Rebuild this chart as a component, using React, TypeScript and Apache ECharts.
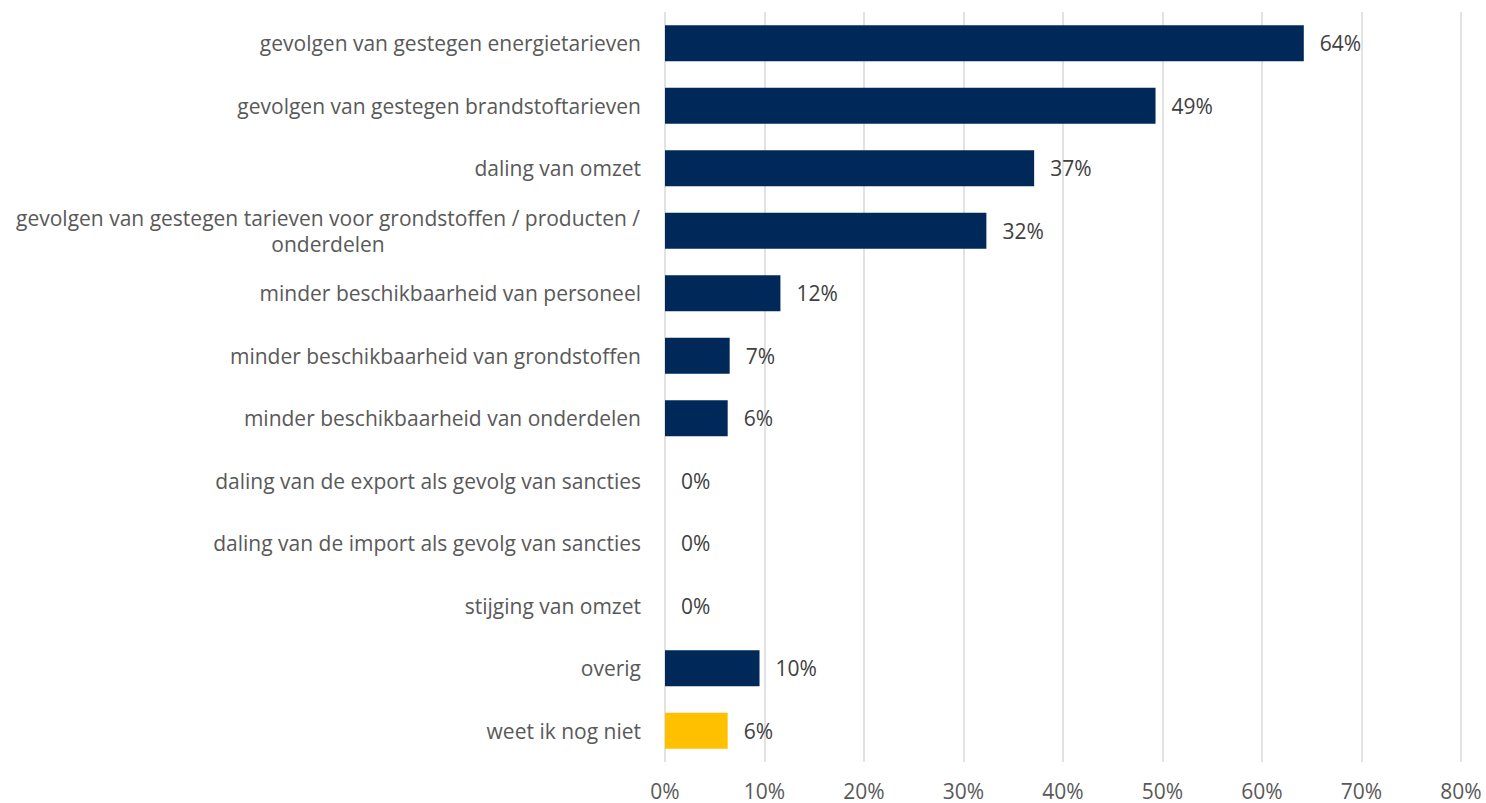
import React, { useEffect, useRef } from "react";
import * as echarts from "echarts";

const categories = [
  "gevolgen van gestegen energietarieven",
  "gevolgen van gestegen brandstoftarieven",
  "daling van omzet",
  "gevolgen van gestegen tarieven voor grondstoffen / producten /\nonderdelen",
  "minder beschikbaarheid van personeel",
  "minder beschikbaarheid van grondstoffen",
  "minder beschikbaarheid van onderdelen",
  "daling van de export als gevolg van sancties",
  "daling van de import als gevolg van sancties",
  "stijging van omzet",
  "overig",
  "weet ik nog niet",
];
const values = [64.2, 49.3, 37.1, 32.3, 11.6, 6.5, 6.3, 0, 0, 0, 9.5, 6.3];
const valueLabels = ["64%", "49%", "37%", "32%", "12%", "7%", "6%", "0%", "0%", "0%", "10%", "6%"];
const highlightIndex = 11;
const xTicks = [0, 10, 20, 30, 40, 50, 60, 70, 80];

const FONT = "'Open Sans', sans-serif";
const NAVY = "#002858";
const YELLOW = "#FFC000";

export default function App() {
  const ref = useRef<HTMLDivElement>(null);
  useEffect(() => {
    if (!ref.current) return;
    const chart = echarts.init(ref.current, undefined, { renderer: "svg" });
    const fontSize = 21;
    const canvas = document.createElement("canvas");
    const ctx = canvas.getContext("2d")!;
    ctx.font = `${fontSize}px 'Open Sans'`;
    const lineWidth = (s: string) => Math.ceil(ctx.measureText(s).width) + 2;
    const multi = categories.find((c) => c.indexOf("\n") >= 0);
    const multiWidth = multi ? Math.max(...multi.split("\n").map(lineWidth)) : 100;

    chart.setOption({
      animation: false,
      grid: { left: 665, right: 25, top: 12, bottom: 41, containLabel: false },
      xAxis: {
        type: "value",
        min: xTicks[0],
        max: xTicks[xTicks.length - 1],
        interval: 10,
        axisLine: { show: false },
        axisTick: { show: false },
        splitLine: { show: true, lineStyle: { color: "#d9d9d9", width: 1.5 } },
        axisLabel: {
          formatter: (v: number) => `${v}%`,
          color: "#595959",
          fontSize: 21,
          fontFamily: FONT,
          margin: 18,
        },
      },
      yAxis: {
        type: "category",
        inverse: true,
        data: categories,
        axisLine: { show: false },
        axisTick: { show: false },
        axisLabel: {
          color: "#595959",
          fontSize,
          fontFamily: FONT,
          margin: 24,
          lineHeight: 26,
          formatter: (v: string) => {
            if (v.indexOf("\n") < 0) return v;
            return v
              .split("\n")
              .map((l) => `{c|${l}}`)
              .join("\n");
          },
          rich: {
            c: {
              width: multiWidth,
              align: "center",
              color: "#595959",
              fontSize,
              fontFamily: FONT,
              lineHeight: 26,
            },
          },
        },
      },
      series: [
        {
          type: "bar",
          data: values.map((v, i) => ({
            value: v,
            itemStyle: { color: i === highlightIndex ? YELLOW : NAVY },
          })),
          barWidth: 36,
          label: {
            show: true,
            position: "right",
            distance: 16,
            color: "#404040",
            fontSize: 21,
            fontFamily: FONT,
            formatter: (p: any) => valueLabels[p.dataIndex],
          },
        },
      ],
    });
    return () => chart.dispose();
  }, []);
  return (
    <div
      ref={ref}
      style={{ position: "fixed", left: 0, top: 0, width: 1486, height: 803, background: "#fff" }}
    />
  );
}
